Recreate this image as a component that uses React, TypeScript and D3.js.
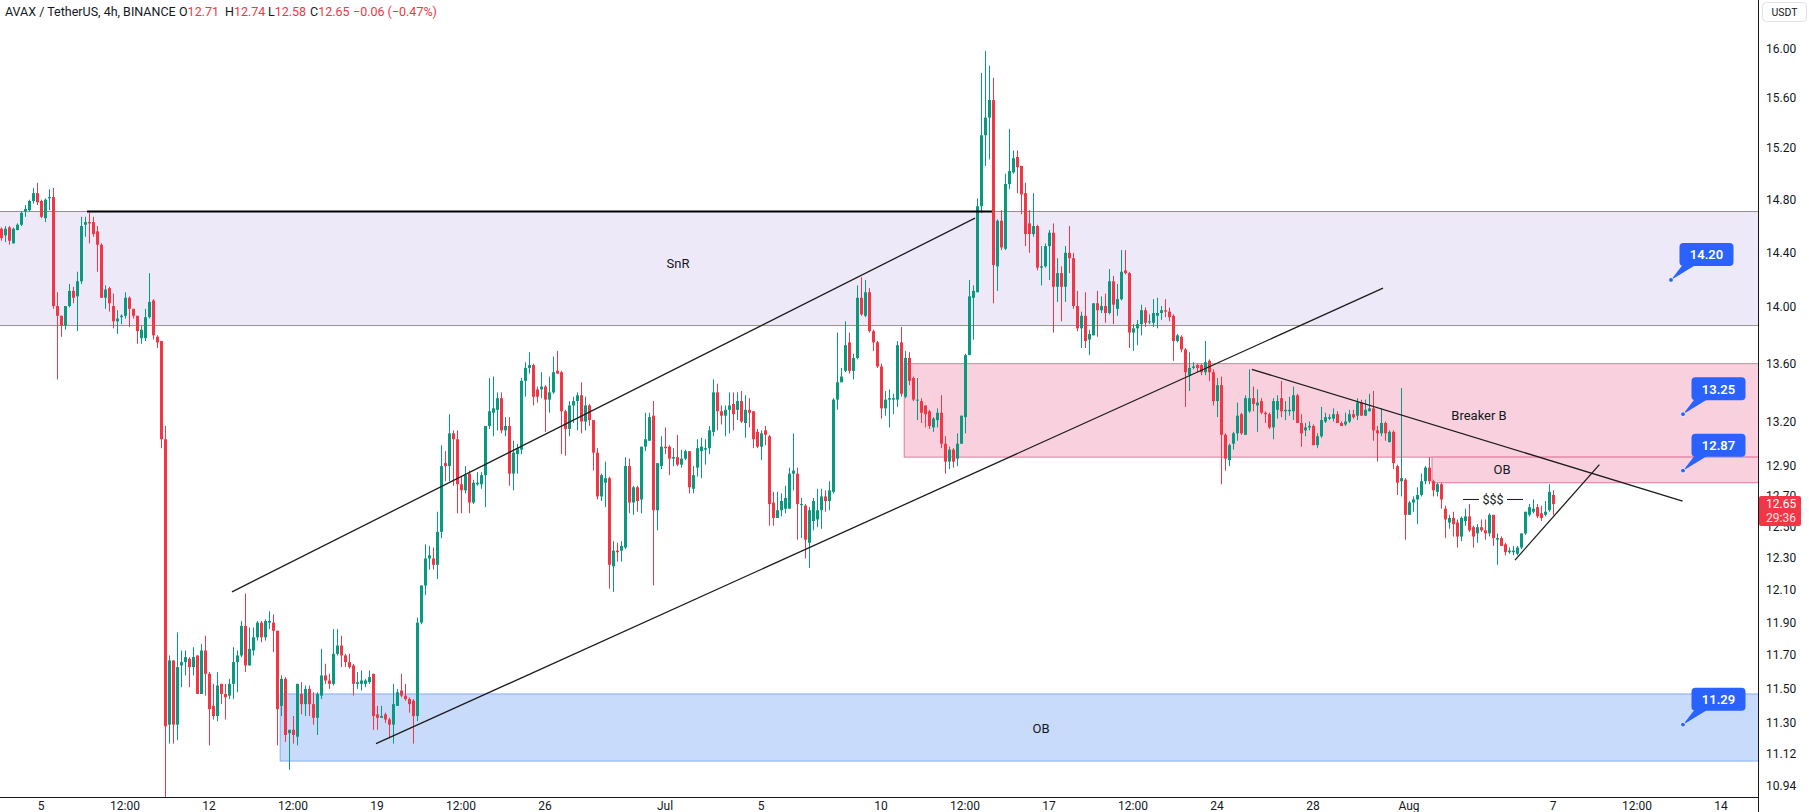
import React from 'react';
import * as d3 from 'd3';

// ---------- DATA ----------
const START = Date.UTC(2023, 5, 3, 8); // first visible 4h candle
const END_AXIS = Date.UTC(2023, 7, 14);
const BAR_MS = 4 * 3600e3;

const opens = [
14.58,14.53,14.59,14.47,14.57,14.61,14.71,14.72,14.79,14.85,
14.79,14.66,14.81,14.82,14.01,13.94,13.87,14.01,14.12,14.08,
14.19,14.61,14.63,14.63,14.56,14.46,14.07,14.14,14.01,13.90,
13.93,13.94,14.07,13.99,13.94,13.78,13.78,13.93,14.05,13.79,
13.76,13.08,11.29,11.67,11.29,11.64,11.66,11.68,11.63,11.70,
11.47,11.73,11.59,11.40,11.34,11.53,11.47,11.46,11.53,11.66,
11.70,11.88,11.64,11.73,11.81,11.90,11.81,11.90,11.90,11.85,
11.40,11.56,11.24,11.26,11.22,11.47,11.41,11.50,11.41,11.33,
11.46,11.58,11.55,11.53,11.71,11.76,11.70,11.66,11.64,11.53,
11.53,11.53,11.54,11.59,11.35,11.33,11.35,11.32,11.29,11.40,
11.49,11.46,11.44,11.43,11.34,11.90,12.13,12.30,12.30,12.26,
12.47,12.92,12.90,13.12,13.08,12.78,12.74,12.85,12.66,12.78,
12.78,12.84,13.17,13.26,13.28,13.36,13.14,13.17,12.85,12.98,
13.01,13.48,13.57,13.59,13.42,13.42,13.44,13.35,13.40,13.55,
13.54,13.27,13.15,13.31,13.34,13.38,13.20,13.31,13.21,12.99,
12.70,12.79,12.82,12.25,12.35,12.35,12.37,12.90,12.66,12.76,
12.68,13.03,13.07,13.24,12.61,12.90,13.03,13.03,12.95,12.96,
12.91,12.95,13.00,12.75,12.89,13.00,13.01,13.02,13.13,13.40,
13.27,13.24,13.28,13.32,13.28,13.34,13.19,13.28,13.27,13.13,
13.03,13.14,13.10,12.66,12.56,12.61,12.62,12.62,12.85,12.85,
12.65,12.64,12.40,12.54,12.55,12.61,12.70,12.67,12.73,13.35,
13.47,13.55,13.75,13.55,13.64,14.07,13.94,14.11,13.83,13.75,
13.58,13.29,13.35,13.35,13.35,13.75,13.37,13.64,13.50,13.35,
13.34,13.31,13.27,13.16,13.21,13.26,13.05,12.93,13.01,12.95,
13.05,13.23,13.66,14.07,14.11,14.75,15.30,15.44,15.58,14.30,
14.64,14.43,14.92,15.01,15.13,15.06,14.85,14.62,14.54,14.60,
14.29,14.30,14.45,14.55,14.15,14.25,14.15,14.40,14.36,14.01,
13.85,13.94,13.77,13.80,14.03,13.98,14.01,13.96,14.19,13.99,
14.06,14.27,14.25,13.82,13.85,13.88,13.98,13.90,13.89,13.94,
13.96,13.98,13.97,13.94,13.76,13.79,13.70,13.52,13.57,13.59,
13.59,13.54,13.62,13.54,13.34,13.45,13.11,12.94,13.05,13.12,
13.25,13.11,13.27,13.36,13.31,13.34,13.26,13.25,13.16,13.28,
13.36,13.27,13.27,13.27,13.38,13.19,13.14,13.16,13.17,13.04,
13.10,13.20,13.22,13.22,13.25,13.19,13.18,13.20,13.25,13.24,
13.33,13.24,13.27,13.29,13.14,13.12,13.19,13.06,13.13,12.90,
12.80,12.81,12.58,12.66,12.68,12.71,12.80,12.89,12.80,12.73,
12.78,12.62,12.53,12.56,12.53,12.44,12.54,12.57,12.50,12.46,
12.50,12.48,12.46,12.58,12.42,12.43,12.39,12.34,12.34,12.33,
12.37,12.46,12.58,12.60,12.63,12.59,12.58,12.61,12.71,
];

const highs = [
14.59,14.60,14.60,14.59,14.62,14.71,14.76,14.80,14.89,14.93,
14.80,14.81,14.88,14.89,14.11,13.94,14.01,14.17,14.15,14.26,
14.67,14.67,14.70,14.67,14.60,14.47,14.16,14.15,14.10,13.98,
13.95,14.11,14.08,13.99,13.94,13.87,13.99,14.25,14.06,13.80,
13.76,13.17,11.70,11.67,11.84,11.73,11.73,11.69,11.75,11.70,
11.77,11.82,11.60,11.53,11.60,11.53,11.53,11.56,11.75,11.73,
11.91,12.08,11.87,11.87,11.91,11.91,11.92,11.97,11.95,11.85,
11.58,11.57,11.26,11.34,11.53,11.54,11.52,11.52,11.48,11.48,
11.74,11.65,11.59,11.86,11.86,11.82,11.71,11.71,11.65,11.60,
11.61,11.56,11.61,11.59,11.40,11.40,11.36,11.33,11.53,11.50,
11.59,11.53,11.45,11.44,11.93,12.13,12.39,12.38,12.37,12.60,
13.04,13.00,13.25,13.14,13.14,12.83,12.90,12.87,12.81,12.86,
12.86,13.17,13.50,13.51,13.40,13.40,13.23,13.23,13.07,13.05,
13.50,13.61,13.68,13.60,13.44,13.54,13.45,13.51,13.65,13.69,
13.55,13.28,13.34,13.37,13.40,13.47,13.37,13.32,13.21,13.02,
12.85,12.93,12.83,12.41,12.40,12.41,12.96,12.95,12.77,12.77,
13.03,13.26,13.26,13.34,12.92,13.10,13.16,13.04,13.02,13.11,
13.01,13.01,13.00,12.90,13.08,13.09,13.08,13.17,13.49,13.46,
13.31,13.31,13.40,13.40,13.40,13.41,13.38,13.36,13.27,13.15,
13.14,13.17,13.11,12.73,12.73,12.72,12.77,12.89,13.12,12.89,
12.69,12.65,12.63,12.69,12.75,12.75,12.74,12.80,13.36,13.82,
13.57,13.90,13.82,13.67,14.16,14.22,14.20,14.14,13.84,13.76,
13.60,13.41,13.42,13.39,13.76,13.86,13.69,13.68,13.51,13.50,
13.36,13.31,13.28,13.23,13.29,13.38,13.10,13.03,13.02,13.12,
13.24,13.67,14.20,14.16,14.81,15.80,15.98,15.86,15.76,14.65,
14.72,15.00,15.35,15.18,15.18,15.06,14.93,14.72,14.85,14.61,
14.45,14.47,14.57,14.62,14.36,14.30,14.45,14.60,14.40,14.12,
13.97,14.11,13.84,14.03,14.12,14.08,14.10,14.28,14.23,14.17,
14.42,14.42,14.26,13.88,13.91,14.02,14.00,13.95,14.06,14.07,
14.01,14.06,14.00,13.95,13.81,13.80,13.71,13.68,13.61,13.60,
13.60,13.76,13.63,13.56,13.50,13.51,13.12,13.05,13.13,13.33,
13.26,13.38,13.56,13.44,13.42,13.36,13.27,13.26,13.36,13.38,
13.48,13.34,13.37,13.44,13.39,13.25,13.19,13.20,13.18,13.12,
13.30,13.26,13.25,13.29,13.27,13.20,13.26,13.28,13.28,13.36,
13.35,13.35,13.39,13.41,13.17,13.29,13.20,13.14,13.14,12.91,
13.43,12.82,12.67,12.70,12.76,12.85,12.90,12.96,12.81,12.79,
12.79,12.64,12.58,12.60,12.55,12.57,12.62,12.65,12.51,12.52,
12.55,12.55,12.59,12.58,12.46,12.44,12.40,12.37,12.38,12.38,
12.46,12.60,12.65,12.68,12.65,12.64,12.67,12.78,12.74,
];

const lows = [
14.49,14.48,14.46,14.47,14.57,14.60,14.67,14.71,14.77,14.76,
14.66,14.63,14.72,13.99,13.49,13.79,13.84,14.00,14.03,13.83,
14.17,14.52,14.47,14.52,14.26,14.07,13.99,13.97,13.85,13.81,
13.88,13.92,13.86,13.92,13.74,13.74,13.76,13.92,13.77,13.71,
13.02,10.80,11.18,11.18,11.20,11.51,11.58,11.51,11.58,11.47,
11.47,11.46,11.17,11.32,11.31,11.41,11.32,11.44,11.44,11.48,
11.69,11.60,11.64,11.70,11.79,11.78,11.79,11.86,11.72,11.17,
11.34,11.19,11.03,11.18,11.17,11.35,11.34,11.34,11.29,11.23,
11.44,11.53,11.50,11.52,11.70,11.63,11.63,11.62,11.46,11.50,
11.49,11.51,11.53,11.26,11.26,11.33,11.30,11.21,11.18,11.40,
11.45,11.43,11.36,11.18,11.31,11.89,12.07,12.23,12.23,12.17,
12.43,12.80,12.80,12.77,12.59,12.59,12.72,12.59,12.65,12.77,
12.75,12.63,13.15,13.10,13.14,13.12,13.10,12.77,12.74,12.85,
12.98,13.37,13.53,13.31,13.33,13.36,13.13,13.26,13.39,13.53,
12.98,12.97,13.10,13.19,13.14,13.12,13.14,13.17,12.87,12.68,
12.67,12.63,12.11,12.09,12.28,12.28,12.36,12.59,12.58,12.60,
12.59,13.00,13.07,12.13,12.48,12.88,12.98,12.84,12.90,12.90,
12.89,12.94,12.72,12.72,12.83,12.82,12.91,12.98,13.10,13.14,
13.18,13.10,13.12,13.14,13.21,13.19,13.09,13.16,13.02,13.02,
12.94,13.04,12.51,12.51,12.56,12.57,12.59,12.62,12.74,12.42,
12.43,12.30,12.24,12.48,12.50,12.49,12.60,12.61,12.72,13.28,
13.47,13.54,13.53,13.49,13.63,13.94,13.93,13.82,13.69,13.57,
13.22,13.24,13.16,13.25,13.30,13.37,13.36,13.45,13.34,13.21,
13.19,13.16,13.15,13.13,13.16,13.02,12.85,12.88,12.89,12.90,
13.05,13.12,13.66,13.77,14.11,14.70,15.06,15.11,14.03,14.12,
14.42,14.42,14.88,15.00,14.85,14.69,14.45,14.40,14.52,14.27,
14.16,14.29,14.20,13.82,14.04,13.90,14.04,14.25,13.99,13.83,
13.71,13.71,13.66,13.80,13.79,13.96,13.89,13.95,13.88,13.94,
14.05,14.24,13.71,13.69,13.73,13.80,13.86,13.88,13.86,13.85,
13.91,13.93,13.90,13.62,13.75,13.68,13.30,13.41,13.56,13.54,
13.52,13.52,13.48,13.31,13.23,12.78,12.87,12.90,13.01,13.07,
13.11,13.11,13.26,13.27,13.13,13.25,13.19,13.15,13.08,13.22,
13.23,13.21,13.24,13.21,13.19,13.03,13.10,13.14,13.04,13.02,
13.09,13.19,13.21,13.20,13.19,13.17,13.17,13.19,13.22,13.21,
13.24,13.24,13.27,13.07,12.93,13.10,13.07,13.06,12.88,12.71,
12.70,12.42,12.58,12.60,12.52,12.70,12.78,12.78,12.70,12.70,
12.62,12.43,12.49,12.44,12.37,12.41,12.51,12.47,12.37,12.40,
12.47,12.42,12.44,12.38,12.26,12.38,12.32,12.33,12.32,12.32,
12.36,12.45,12.57,12.59,12.56,12.54,12.57,12.60,12.58,
];

const closes = [
14.51,14.58,14.49,14.58,14.61,14.70,14.73,14.79,14.85,14.78,
14.67,14.80,14.82,14.01,13.94,13.87,14.01,14.12,14.07,14.19,
14.60,14.63,14.62,14.54,14.46,14.07,14.13,14.03,13.90,13.92,
13.94,14.07,13.99,13.94,13.83,13.84,13.93,14.04,13.80,13.75,
13.08,11.28,11.67,11.29,11.63,11.66,11.69,11.63,11.69,11.47,
11.73,11.59,11.38,11.34,11.52,11.47,11.45,11.53,11.66,11.70,
11.88,11.64,11.74,11.81,11.90,11.81,11.91,11.91,11.85,11.38,
11.56,11.23,11.26,11.23,11.53,11.41,11.50,11.41,11.33,11.47,
11.58,11.55,11.53,11.71,11.76,11.70,11.66,11.63,11.53,11.54,
11.55,11.55,11.57,11.34,11.33,11.34,11.32,11.29,11.41,11.48,
11.46,11.44,11.41,11.34,11.90,12.13,12.30,12.32,12.26,12.47,
12.90,12.90,13.12,13.08,12.78,12.74,12.84,12.66,12.79,12.79,
12.84,13.17,13.27,13.29,13.36,13.14,13.17,12.85,12.99,13.02,
13.48,13.57,13.59,13.37,13.37,13.44,13.35,13.40,13.54,13.53,
13.27,13.15,13.31,13.34,13.38,13.20,13.31,13.21,12.99,12.70,
12.84,12.82,12.26,12.35,12.34,12.38,12.90,12.66,12.76,12.67,
13.03,13.08,13.23,12.61,12.92,13.03,13.02,12.95,12.96,12.91,
12.95,13.00,12.76,12.84,13.02,13.03,13.02,13.14,13.40,13.27,
13.24,13.28,13.31,13.25,13.34,13.20,13.28,13.26,13.08,13.03,
13.12,13.11,12.65,12.56,12.61,12.67,12.69,12.85,12.87,12.65,
12.65,12.42,12.61,12.67,12.61,12.70,12.67,12.74,13.35,13.47,
13.51,13.73,13.55,13.64,14.07,13.95,14.11,13.83,13.75,13.58,
13.29,13.35,13.36,13.36,13.73,13.39,13.64,13.48,13.35,13.35,
13.26,13.25,13.17,13.22,13.26,13.05,12.93,13.01,12.93,13.05,
13.24,13.66,14.08,14.12,14.75,15.30,15.44,15.58,14.31,14.64,
14.44,14.92,15.02,15.12,15.05,14.84,14.54,14.54,14.60,14.29,
14.30,14.45,14.55,14.15,14.25,14.15,14.40,14.36,14.01,13.85,
13.94,13.76,13.81,14.03,13.98,14.01,13.96,14.19,14.02,14.06,
14.26,14.25,13.82,13.85,13.88,13.98,13.89,13.90,13.96,13.96,
13.98,13.97,13.93,13.76,13.80,13.70,13.54,13.57,13.58,13.57,
13.54,13.61,13.54,13.34,13.45,13.11,12.95,13.04,13.12,13.24,
13.12,13.36,13.36,13.32,13.33,13.26,13.25,13.16,13.34,13.34,
13.27,13.28,13.28,13.38,13.19,13.12,13.16,13.17,13.04,13.10,
13.21,13.23,13.23,13.25,13.19,13.17,13.20,13.25,13.23,13.33,
13.24,13.28,13.29,13.14,13.12,13.19,13.12,13.13,12.92,12.79,
12.82,12.58,12.66,12.68,12.71,12.80,12.89,12.80,12.74,12.78,
12.68,12.55,12.56,12.52,12.44,12.56,12.57,12.48,12.44,12.50,
12.48,12.46,12.58,12.43,12.43,12.38,12.34,12.35,12.35,12.37,
12.46,12.60,12.63,12.62,12.57,12.56,12.60,12.73,12.65,
];

const priceTicks = [16.0, 15.6, 15.2, 14.8, 14.4, 14.0, 13.6, 13.2, 12.9, 12.7, 12.5, 12.3, 12.1, 11.9, 11.7, 11.5, 11.3, 11.12, 10.94];
const tickPrecision = [2, 2, 2, 2, 2, 2, 2, 2, 2, 2, 2, 2, 2, 2, 2, 2, 2, 2, 2];

const timeTickDates = [
  Date.UTC(2023, 5, 5), Date.UTC(2023, 5, 8, 12), Date.UTC(2023, 5, 12), Date.UTC(2023, 5, 15, 12),
  Date.UTC(2023, 5, 19), Date.UTC(2023, 5, 22, 12), Date.UTC(2023, 5, 26), Date.UTC(2023, 6, 1),
  Date.UTC(2023, 6, 5), Date.UTC(2023, 6, 10), Date.UTC(2023, 6, 13, 12), Date.UTC(2023, 6, 17),
  Date.UTC(2023, 6, 20, 12), Date.UTC(2023, 6, 24), Date.UTC(2023, 6, 28), Date.UTC(2023, 7, 1),
  Date.UTC(2023, 7, 7), Date.UTC(2023, 7, 10, 12), Date.UTC(2023, 7, 14),
];
const timeTickLabels = ['5', '12:00', '12', '12:00', '19', '12:00', '26', 'Jul', '5', '10', '12:00', '17', '12:00', '24', '28', 'Aug', '7', '12:00', '14'];

// zones: start (bar index), top price, bottom price
const zoneStart = [-3, 225.8, 357.75, 69.8];
const zoneTop = [14.71, 13.6, 12.96, 11.47];
const zoneBottom = [13.87, 12.96, 12.79, 11.08];
const zoneLabels = ['SnR', 'Breaker B', 'OB', 'OB'];
const zoneLabelIdx = [169.25, 369.5, 375.25, 260];
const zoneLabelPrice = [14.32, 13.24, 12.88, 11.27];

// trend lines [fromIdx, fromPrice, toIdx, toPrice]
const lineFromIdx = [57.75, 93.75, 312.7, 378.5];
const lineFromPrice = [12.09, 11.18, 13.56, 12.29];
const lineToIdx = [243.5, 345.5, 420.4, 399.6];
const lineToPrice = [14.66, 14.14, 12.67, 12.91];

const hLineFromIdx = 21.5;
const hLineToIdx = 247.75;
const hLinePrice = 14.71;

const calloutPrices = [14.2, 13.25, 12.87, 11.29];
const calloutIdx = [417.5, 420.5, 420.5, 420.5];

const sssLabel = '$$$';
const sssFromIdx = 365.5;
const sssToIdx = 380.5;
const sssPrice = 12.68;

const lastPrice = 12.65;
const countdown = '29:36';

const header = {
  symbol: 'AVAX / TetherUS, 4h, BINANCE',
  o: '12.71', h: '12.74', l: '12.58', c: '12.65', chg: '−0.06 (−0.47%)',
};

// ---------- STYLE ----------
const W = 1809, H = 812;
const PLOT_R = 1758, PLOT_B = 797;
const UP = '#089981', DOWN = '#f23645';
const FONT = 'Roboto, "Liberation Sans", Arial, sans-serif';
const TXT = '#131722';
const zoneFill = ['#eee9f8', '#f9d1de', '#f9d1de', '#c9dbfa'];
const zoneStroke = ['#9d82da', '#e07aa0', '#e07aa0', '#86acf5'];
const BLUE = '#2962ff';

export default function App() {
  const x = d3.scaleUtc().domain([new Date(START), new Date(END_AXIS)]).range([1, 1721]);
  const xi = (k: number) => x(new Date(START + k * BAR_MS));
  const y = d3.scaleLog().domain([16, 10.94]).range([48.5, 785.7]);

  const candles = opens.map((o, k) => {
    const c = closes[k], hi = highs[k], lo = lows[k];
    const cx = Math.round(xi(k));
    const col = c >= o ? UP : DOWN;
    const yTop = y(Math.max(o, c)), yBot = y(Math.min(o, c));
    return (
      <g key={k} fill={col}>
        <rect x={cx} y={y(hi)} width={1} height={Math.max(1, y(lo) - y(hi))} />
        <rect x={cx - 1} y={yTop} width={3} height={Math.max(1, yBot - yTop)} />
      </g>
    );
  });

  const zones = zoneStart.map((s, i) => {
    const x0 = xi(s);
    const x1 = PLOT_R + 10;
    return (
      <rect key={i} x={x0} y={y(zoneTop[i])} width={x1 - x0} height={y(zoneBottom[i]) - y(zoneTop[i])}
        fill={zoneFill[i]} stroke={zoneStroke[i]} strokeWidth={1} />
    );
  });

  const lp = y(lastPrice);
  const sssY = y(sssPrice);
  const sssMid = (xi(sssFromIdx) + xi(sssToIdx)) / 2;

  return (
    <svg width={W} height={H} style={{ position: 'absolute', left: 0, top: 0, background: '#fff' }}
      fontFamily={FONT}>
      <defs>
        <clipPath id="plot"><rect x={0} y={0} width={PLOT_R} height={PLOT_B} /></clipPath>
      </defs>
      <rect x={0} y={0} width={W} height={H} fill="#fff" />
      <g clipPath="url(#plot)">
        {zones}
        {candles}
        <line x1={xi(hLineFromIdx)} x2={xi(hLineToIdx)} y1={y(hLinePrice)} y2={y(hLinePrice)} stroke="#000" strokeWidth={2.2} />
        {lineFromIdx.map((f, i) => (
          <line key={i} x1={xi(f)} y1={y(lineFromPrice[i])} x2={xi(lineToIdx[i])} y2={y(lineToPrice[i])}
            stroke="#1c1c1c" strokeWidth={1.3} />
        ))}
        {zoneLabels.map((t, i) => (
          <text key={i} x={xi(zoneLabelIdx[i])} y={y(zoneLabelPrice[i])} textAnchor="middle" dominantBaseline="central"
            fontSize={13} fill={TXT}>{t}</text>
        ))}
        <line x1={xi(sssFromIdx)} x2={sssMid - 14} y1={sssY} y2={sssY} stroke={TXT} strokeWidth={1} />
        <line x1={sssMid + 14} x2={xi(sssToIdx)} y1={sssY} y2={sssY} stroke={TXT} strokeWidth={1} />
        <text x={sssMid} y={sssY} textAnchor="middle" dominantBaseline="central" fontSize={12.5} fill={TXT}>{sssLabel}</text>
        {calloutPrices.map((p, i) => {
          const dx = xi(calloutIdx[i]);
          const dy = y(p);
          const bx = dx + 8.5, by = dy - 37, bw = 54, bh = 23;
          return (
            <g key={i}>
              <path d={`M${dx},${dy} L${bx + 3},${by + bh - 1} L${bx + 16},${by + bh - 1} Z`} fill={BLUE} />
              <rect x={bx} y={by} width={bw} height={bh} rx={4} fill={BLUE} />
              <text x={bx + bw / 2} y={by + bh / 2 + 0.5} textAnchor="middle" dominantBaseline="central"
                fontSize={13} fontWeight={600} fill="#fff">{p.toFixed(2)}</text>
              <circle cx={dx} cy={dy} r={2.4} fill={BLUE} stroke="#fff" strokeWidth={0.8} />
            </g>
          );
        })}
      </g>

      {/* axes */}
      <line x1={PLOT_R + 0.5} x2={PLOT_R + 0.5} y1={0} y2={H} stroke={TXT} strokeWidth={1} />
      <line x1={0} x2={PLOT_R} y1={PLOT_B + 0.5} y2={PLOT_B + 0.5} stroke={TXT} strokeWidth={1} />
      {priceTicks.map((v, i) => (
        <text key={i} x={1766} y={y(v)} dominantBaseline="central" fontSize={12} fill={TXT}>{v.toFixed(tickPrecision[i])}</text>
      ))}
      {timeTickDates.map((d, i) => (
        <text key={i} x={x(new Date(d))} y={806} textAnchor="middle" dominantBaseline="central" fontSize={12} fill={TXT}>{timeTickLabels[i]}</text>
      ))}

      {/* last price label */}
      <rect x={PLOT_R + 1} y={lp - 8} width={42} height={30} rx={2} fill={DOWN} />
      <text x={1766} y={lp} dominantBaseline="central" fontSize={12} fill="#fff">{lastPrice.toFixed(2)}</text>
      <text x={1766} y={lp + 14} dominantBaseline="central" fontSize={12} fill="#ffe3e5">{countdown}</text>

      {/* currency box */}
      <rect x={1762.5} y={2.5} width={44} height={19} rx={4} fill="#fff" stroke="#e0e3eb" />
      <text x={1784.5} y={12.5} textAnchor="middle" dominantBaseline="central" fontSize={10.5} fill={TXT}>USDT</text>

      {/* header */}
      <text y={16} fontSize={12.5} fill={TXT}>
        <tspan x={5}>{header.symbol}</tspan>
        <tspan x={179}>O</tspan><tspan fill={DOWN}>{header.o}</tspan>
        <tspan x={225}>H</tspan><tspan fill={DOWN}>{header.h}</tspan>
        <tspan x={268}>L</tspan><tspan fill={DOWN}>{header.l}</tspan>
        <tspan x={310}>C</tspan><tspan fill={DOWN}>{header.c}</tspan>
        <tspan x={353} fill={DOWN}>{header.chg}</tspan>
      </text>
    </svg>
  );
}
